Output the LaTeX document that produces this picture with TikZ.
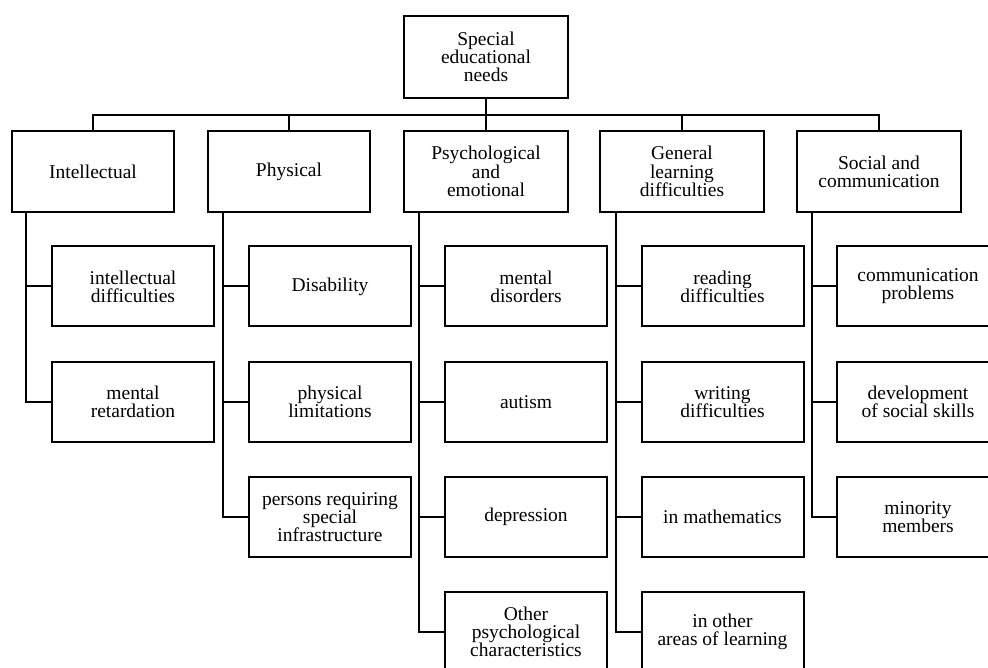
\documentclass[tikz,border=0pt]{standalone}
\usepackage{fontspec}
\setmainfont{Liberation Serif}
\begin{document}
\begin{tikzpicture}[x=1pt,y=-1pt,
  box/.style={draw, line width=2pt, rectangle, inner sep=0pt, minimum width=162pt, minimum height=81pt, align=center, font=\fontsize{19.5}{18.2}\selectfont},
  conn/.style={line width=2pt}]
\path[use as bounding box] (0,0) rectangle (988,668);
\clip (0,0) rectangle (988,668);
% root
\node[box, minimum width=164pt, minimum height=82pt] (root) at (486,57) {Special\\educational\\needs};
% level 1
\node[box] (int) at (93,171.5) {Intellectual};
\node[box] (phy) at (289,171.5) {\raisebox{4pt}{Physical}};
\node[box, minimum width=164pt] (psy) at (486,171.5) {Psychological\\and\\emotional};
\node[box, minimum width=164pt] (gen) at (682,171.5) {General\\learning\\difficulties};
\node[box, minimum width=164pt] (soc) at (879,171.5) {Social and\\communication};
% level 2
\node[box, minimum height=80pt] (int1) at (133,286.5) {intellectual\\difficulties};
\node[box, minimum height=80pt] (int2) at (133,402) {mental\\retardation};
\node[box, minimum height=80pt] (phy1) at (330,286.5) {Disability};
\node[box, minimum height=80pt] (phy2) at (330,402) {physical\\limitations};
\node[box, minimum height=80pt] (phy3) at (330,517) {persons requiring\\special\\infrastructure};
\node[box, minimum height=80pt] (psy1) at (526,286.5) {mental\\disorders};
\node[box, minimum height=80pt] (psy2) at (526,402) {autism};
\node[box, minimum height=80pt] (psy3) at (526,517) {depression};
\node[box, minimum height=80pt] (psy4) at (526,632) {Other\\psychological\\characteristics};
\node[box, minimum height=80pt] (gen1) at (722.5,286.5) {reading\\difficulties};
\node[box, minimum height=80pt] (gen2) at (722.5,402) {writing\\difficulties};
\node[box, minimum height=80pt] (gen3) at (722.5,517) {in mathematics};
\node[box, minimum height=80pt] (gen4) at (722.5,632) {in other\\areas of learning};
\node[box, minimum height=80pt] (soc1) at (918,286.5) {communication\\problems};
\node[box, minimum height=80pt] (soc2) at (918,402) {development\\of social skills};
\node[box, minimum height=80pt] (soc3) at (918,517) {minority\\members};
% bus
\coordinate (bus) at (486,115);
\draw[conn] (root.south) -- (psy.north);
\draw[conn] (int.north) -- (int.north |- bus) -- (soc.north |- bus) -- (soc.north);
\draw[conn] (phy.north) -- (phy.north |- bus);
\draw[conn] (gen.north) -- (gen.north |- bus);
% stems
\coordinate (intS) at ([xshift=15pt]int.south west);
\coordinate (phyS) at ([xshift=16pt]phy.south west);
\coordinate (psyS) at ([xshift=16pt]psy.south west);
\coordinate (genS) at ([xshift=17pt]gen.south west);
\coordinate (socS) at ([xshift=16pt]soc.south west);
\draw[conn] (intS) |- (int2.west);
\draw[conn] (int1.west) -- (int1.west -| intS);
\draw[conn] (phyS) |- (phy3.west);
\foreach \n in {phy1,phy2} \draw[conn] (\n.west) -- (\n.west -| phyS);
\draw[conn] (psyS) |- (psy4.west);
\foreach \n in {psy1,psy2,psy3} \draw[conn] (\n.west) -- (\n.west -| psyS);
\draw[conn] (genS) |- (gen4.west);
\foreach \n in {gen1,gen2,gen3} \draw[conn] (\n.west) -- (\n.west -| genS);
\draw[conn] (socS) |- (soc3.west);
\foreach \n in {soc1,soc2} \draw[conn] (\n.west) -- (\n.west -| socS);
\end{tikzpicture}
\end{document}
